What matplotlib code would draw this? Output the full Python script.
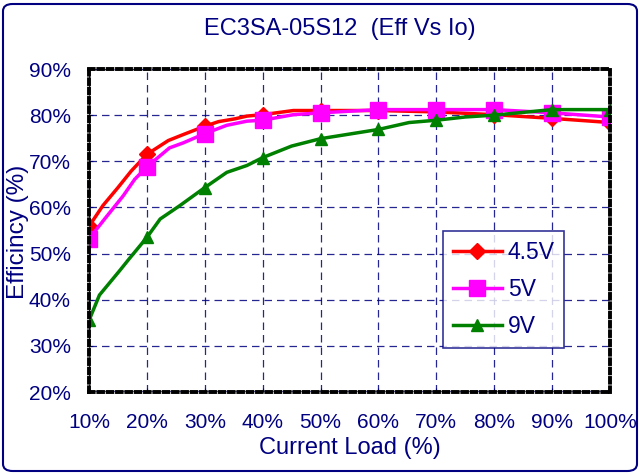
import matplotlib
matplotlib.use("Agg")
import matplotlib.pyplot as plt
from matplotlib.patches import FancyBboxPatch
import numpy as np

plt.rcParams['font.family'] = ['Liberation Sans', 'DejaVu Sans']

NAVY = '#000080'

title = "EC3SA-05S12  (Eff Vs Io)"
xlabel = "Current Load (%)"
ylabel = "Efficincy (%)"
xticks = [10, 20, 30, 40, 50, 60, 70, 80, 90, 100]
yticks = [20, 30, 40, 50, 60, 70, 80, 90]

labels = ["4.5V", "5V", "9V"]

x_45 = [10, 12.4, 15, 17.3, 20, 23.7, 26.3, 30, 32.4, 35.2, 37.3, 40, 45.3, 50, 60, 70, 80, 90, 100]
y_45 = [55.9, 60.4, 64.3, 67.9, 71.5, 74.5, 75.8, 77.6, 78.6, 79.2, 79.8, 80.1, 81.0, 81.0, 81.0, 80.7, 80.1, 79.3, 78.4]

x_5 = [10, 12.7, 15.9, 17.9, 20, 23.9, 26.3, 30, 33.8, 37.3, 40, 45.3, 50, 60, 70, 80, 90, 100]
y_5 = [53.2, 57.5, 62.5, 66.1, 68.8, 72.9, 74.0, 76.0, 77.8, 78.7, 78.9, 80.1, 80.5, 81.2, 81.2, 81.2, 80.5, 79.6]

x_9 = [10, 11.8, 15.3, 16.9, 20, 22.3, 25.7, 30, 33.8, 37.3, 40, 45, 50, 60, 65.3, 70, 75, 80, 90, 100]
y_9 = [35.5, 41.0, 46.3, 48.8, 53.5, 57.5, 60.4, 64.3, 67.6, 69.1, 70.8, 73.3, 74.9, 76.9, 78.4, 78.9, 79.6, 80.0, 81.2, 81.2]

series = [
    (x_45, y_45, labels[0], '#FF0000', 'D', 8),
    (x_5, y_5, labels[1], '#FF00FF', 's', 11),
    (x_9, y_9, labels[2], '#008000', '^', 9),
]

fig = plt.figure(figsize=(6.4, 4.74), dpi=100)
ax = fig.add_axes([89/640, 1-392/474, (610-89)/640, (392-69)/474])

for xs, ys, lab, col, mk, ms in series:
    xs = np.array(xs); ys = np.array(ys)
    idx = [i for i, v in enumerate(xs) if abs(v % 10) < 1e-9]
    ax.plot(xs, ys, color=col, lw=2.5, marker=mk, markersize=ms,
            markevery=idx, markerfacecolor=col, markeredgecolor=col, label=lab, zorder=3)

ax.set_xlim(10, 100)
ax.set_ylim(20, 90)
ax.set_xticks(xticks)
ax.set_yticks(yticks)
ax.set_xticklabels([f"{t}%" for t in xticks])
ax.set_yticklabels([f"{t}%" for t in yticks])
ax.tick_params(axis='both', colors=NAVY, labelcolor=NAVY, labelsize=15, length=3, direction='in')
ax.tick_params(axis='x', pad=15)
ax.tick_params(axis='y', pad=13)

ax.grid(True, color=NAVY, linestyle=(0, (6, 4)), linewidth=0.9, alpha=0.85)
ax.set_axisbelow(True)

for side, sp in ax.spines.items():
    sp.set_color('black')
    sp.set_linewidth(2.8)
    sp.set_linestyle((0, (1.2, 1.2)))
    sp.set_zorder(4)
# thin navy axis lines under the dashed spines
ax.axvline(10, color=NAVY, lw=1.2, zorder=2.5, alpha=0.7)
ax.axhline(20, color=NAVY, lw=1.2, zorder=2.5, alpha=0.7)

ax.set_xlabel(xlabel, color=NAVY, fontsize=17, labelpad=4)
fig.text(18/640, 1-232/474, ylabel, rotation=90, ha='center', va='center', color=NAVY, fontsize=17.5)

leg = ax.legend(loc='upper left', bbox_to_anchor=((443-89)/(610-89), 1-(231-69)/(392-69)),
                fontsize=16.5, frameon=True, fancybox=False, edgecolor=NAVY,
                handlelength=2.15, labelspacing=0.62, borderpad=0.42, handletextpad=0.25,
                borderaxespad=0)
leg.get_frame().set_linewidth(1.2)
for t in leg.get_texts():
    t.set_color(NAVY)

fig.text(340/640, 1-29/474, title, ha='center', va='center', color=NAVY, fontsize=17)

border = FancyBboxPatch((3/640, 3/474), 634/640, 467/474, boxstyle="round,pad=0,rounding_size=0.015",
                        transform=fig.transFigure, fill=False, edgecolor=NAVY, lw=1.5)
fig.patches.append(border)

fig.savefig("out.png", dpi=100)
